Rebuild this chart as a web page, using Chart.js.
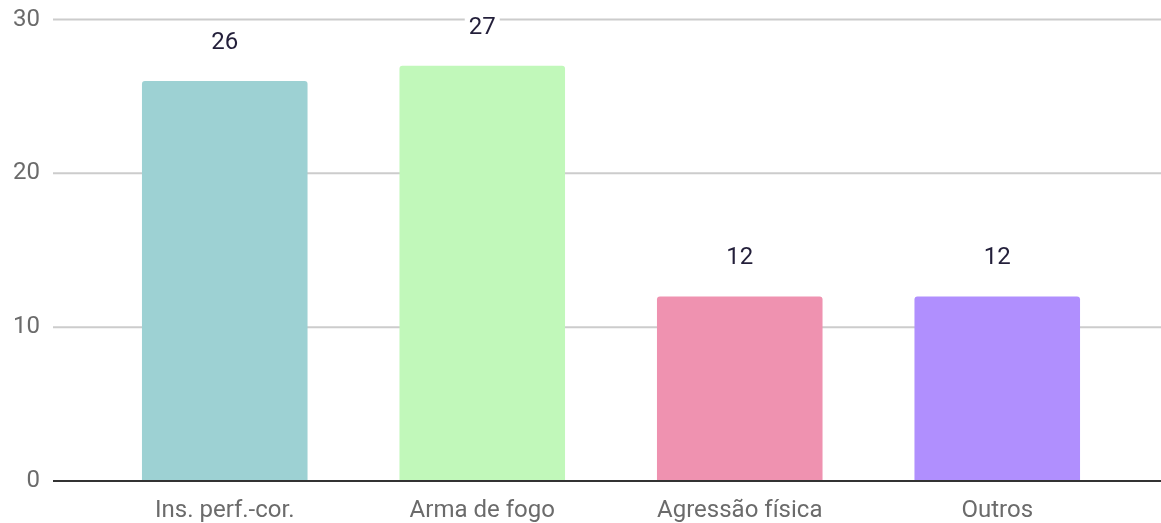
<!DOCTYPE html>
<html>
<head>
<meta charset="utf-8">
<script src="https://cdn.jsdelivr.net/npm/chart.js@4"></script>
<style>
  html, body { margin: 0; padding: 0; background: #fff; overflow: hidden; }
  #wrap { position: relative; width: 1161px; height: 523px; }
</style>
</head>
<body>
<div id="wrap"><canvas id="resultChart"></canvas></div>
<script>
// categories and values
const categories = ["Ins. perf.-cor.", "Arma de fogo", "Agressão física", "Outros"];
const counts = [26, 27, 12, 12];
const barColors = ["#9dd1d3", "#c1f8ba", "#ef92b0", "#b08ffe"];
const yTicks = [0, 10, 20, 30];

const FONT = "Roboto, 'Noto Sans', sans-serif";

// gridlines run the full width, wider than the plot area
const fullGrid = {
  id: "fullGrid",
  beforeDatasetsDraw(chart) {
    const ctx = chart.ctx;
    const y = chart.scales.y;
    ctx.save();
    ctx.strokeStyle = "#cccccc";
    ctx.lineWidth = 2;
    yTicks.forEach(v => {
      if (v === 0) return;
      const py = y.getPixelForValue(v);
      ctx.beginPath();
      ctx.moveTo(53, py);
      ctx.lineTo(chart.width, py);
      ctx.stroke();
    });
    ctx.restore();
  },
  afterDatasetsDraw(chart) {
    const ctx = chart.ctx;
    const y = chart.scales.y;
    const py = y.getPixelForValue(0);
    ctx.save();
    ctx.strokeStyle = "#333333";
    ctx.lineWidth = 2;
    ctx.beginPath();
    ctx.moveTo(53, py);
    ctx.lineTo(chart.width, py);
    ctx.stroke();

    // value labels above bars
    const meta = chart.getDatasetMeta(0);
    ctx.font = "24px " + FONT;
    ctx.textAlign = "center";
    ctx.textBaseline = "middle";
    meta.data.forEach((bar, i) => {
      const txt = String(counts[i]);
      const ty = bar.y - 38;
      const w = ctx.measureText(txt).width;
      ctx.fillStyle = "#ffffff";
      ctx.fillRect(bar.x - w / 2 - 4, ty - 11, w + 8, 22);
      ctx.fillStyle = "#231f3a";
      ctx.fillText(txt, bar.x, ty);
    });
    ctx.restore();
  }
};

const data = {
  labels: categories,
  datasets: [
    {
      data: counts,
      backgroundColor: barColors,
      borderRadius: 3,
      categoryPercentage: 1,
      barPercentage: 0.643,
    },
  ],
};

const config = {
  type: "bar",
  data: data,
  plugins: [fullGrid],
  options: {
    responsive: true,
    maintainAspectRatio: false,
    animation: false,
    layout: { padding: { top: 19.5, right: 35, left: 0, bottom: 0 } },
    plugins: {
      legend: { display: false },
      tooltip: { enabled: false },
    },
    scales: {
      x: {
        grid: { display: false, drawTicks: false },
        border: { display: false },
        ticks: { color: "#6b6b6b", font: { family: FONT, size: 24 }, padding: 16, maxRotation: 0 },
        afterFit(scale) { scale.height = 42; },
      },
      y: {
        min: 0,
        max: 30,
        // invisible tick marks push the labels out to the left edge
        grid: { display: true, drawOnChartArea: false, drawTicks: true, tickLength: 56, color: "rgba(0,0,0,0)" },
        border: { display: false },
        ticks: {
          stepSize: 10,
          color: "#6b6b6b",
          font: { family: FONT, size: 24 },
          padding: 0,
        },
        afterFit(scale) { scale.width = 96; },
      },
    },
  },
};

const ctx = document.getElementById("resultChart").getContext("2d");
const resultChart = new Chart(ctx, config);
</script>
</body>
</html>
